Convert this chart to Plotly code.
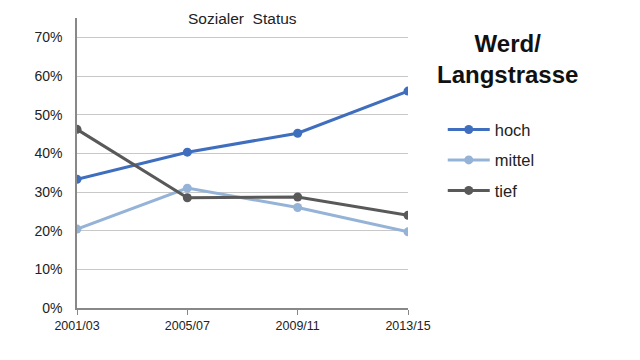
import plotly.graph_objects as go

categories = ["2001/03", "2005/07", "2009/11", "2013/15"]
hoch = [0.333, 0.403, 0.452, 0.561]
mittel = [0.204, 0.310, 0.260, 0.197]
tief = [0.462, 0.285, 0.287, 0.240]
series_names = ["hoch", "mittel", "tief"]
colors = ["#3F6EBF", "#95B3D7", "#595959"]
y_ticks = [0, 0.1, 0.2, 0.3, 0.4, 0.5, 0.6, 0.7]
y_labels = ["0%", "10%", "20%", "30%", "40%", "50%", "60%", "70%"]

fig = go.Figure()
for name, vals, col in zip(series_names, [hoch, mittel, tief], colors):
    fig.add_trace(go.Scatter(
        x=list(range(len(categories))), y=vals, name=name, mode="lines+markers",
        line=dict(color=col, width=3), marker=dict(color=col, size=9),
        legendgroup=name,
    ))

fig.update_layout(
    width=640, height=360,
    margin=dict(l=77, r=232, t=18, b=52),
    paper_bgcolor="white", plot_bgcolor="white",
    font=dict(family="Liberation Sans, Arial", color="#222222"),
    showlegend=True,
    legend=dict(x=1.105, y=0.675, xanchor="left", yanchor="top",
                font=dict(size=16.5, color="#222222"), tracegroupgap=6,
                itemwidth=42, bgcolor="rgba(0,0,0,0)"),
    xaxis=dict(range=[0, 3], tickvals=list(range(len(categories))), ticktext=categories,
               showgrid=False, showline=True, linecolor="#888888", linewidth=1.5,
               ticks="outside", ticklen=5, tickcolor="#888888",
               tickfont=dict(size=12.5, color="#222222"), zeroline=False),
    yaxis=dict(range=[0, 0.75], tickvals=y_ticks, ticktext=y_labels,
               showgrid=True, gridcolor="#C8C8C8", gridwidth=1,
               showline=True, linecolor="#888888", linewidth=1.5,
               ticks="outside", ticklen=10, tickcolor="rgba(0,0,0,0)",
               tickfont=dict(size=14, color="#222222"), zeroline=False),
    annotations=[
        dict(text="Sozialer  Status", x=0.5, y=1.0, xref="paper", yref="paper",
             xanchor="center", yanchor="middle", showarrow=False,
             font=dict(size=15.5, color="#222222")),
        dict(text="<b>Werd/<br>Langstrasse</b>", x=1.30, y=0.86, xref="paper", yref="paper",
             xanchor="center", yanchor="middle", showarrow=False,
             font=dict(size=24, color="#111111")),
    ],
)

fig.write_html("out.html", post_script="document.body.style.margin='0';",
               config={"displayModeBar": False})
